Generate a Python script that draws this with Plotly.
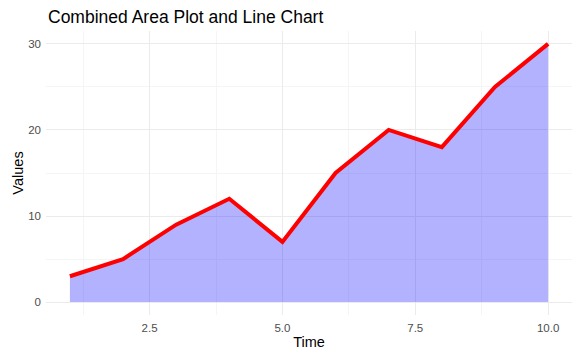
import plotly.graph_objects as go

time = [1, 2, 3, 4, 5, 6, 7, 8, 9, 10]
values = [3, 5, 9, 12, 7, 15, 20, 18, 25, 30]
x_tickvals = [2.5, 5.0, 7.5, 10.0]
x_ticktext = ["2.5", "5.0", "7.5", "10.0"]
y_tickvals = [0, 10, 20, 30]
y_ticktext = ["0", "10", "20", "30"]

fig = go.Figure()
fig.add_trace(go.Scatter(x=time, y=values, mode="lines", fill="tozeroy",
                         fillcolor="rgba(0,0,255,0.3)", line=dict(width=0),
                         hoverinfo="skip", showlegend=False))
fig.add_trace(go.Scatter(x=time, y=values, mode="lines",
                         line=dict(color="#FF0000", width=4), showlegend=False))

font = "Liberation Sans, Arial, sans-serif"
W, H = 572, 352
fig.update_layout(
    width=W, height=H,
    margin=dict(l=38, r=8, t=23, b=45),
    paper_bgcolor="white", plot_bgcolor="white",
    font=dict(family=font, color="#000000"),
    title=dict(text="Combined Area Plot and Line Chart", x=40/W, xanchor="left", xref="container",
               y=1 - 8.5/H, yanchor="middle", yref="container", pad=dict(l=0, r=0, t=0, b=0),
               font=dict(size=17.5, color="#000000", family=font)),
    xaxis=dict(range=[0.55, 10.45], tickvals=x_tickvals, ticktext=x_ticktext, automargin=False,
               showgrid=True, gridcolor="#EBEBEB", gridwidth=1, zeroline=False,
               showline=False, ticks="", tickfont=dict(size=11.5, color="#4D4D4D"),
               ticklabelstandoff=4,
               minor=dict(tickvals=[1.25, 3.75, 6.25, 8.75], showgrid=True, gridcolor="#F5F5F5", gridwidth=0.6),
               title=dict(text="Time", font=dict(size=14.5, color="#000000"), standoff=4)),
    yaxis=dict(range=[-1.5, 31.5], tickvals=y_tickvals, ticktext=y_ticktext, automargin=False,
               showgrid=True, gridcolor="#EBEBEB", gridwidth=1, zeroline=False,
               showline=False, ticks="", tickfont=dict(size=11.5, color="#4D4D4D"),
               ticklabelstandoff=4,
               minor=dict(tickvals=[5, 15, 25], showgrid=True, gridcolor="#F5F5F5", gridwidth=0.6),
               title=dict(text="Values", font=dict(size=14.5, color="#000000"), standoff=1)),
)
fig.write_html("out.html")
